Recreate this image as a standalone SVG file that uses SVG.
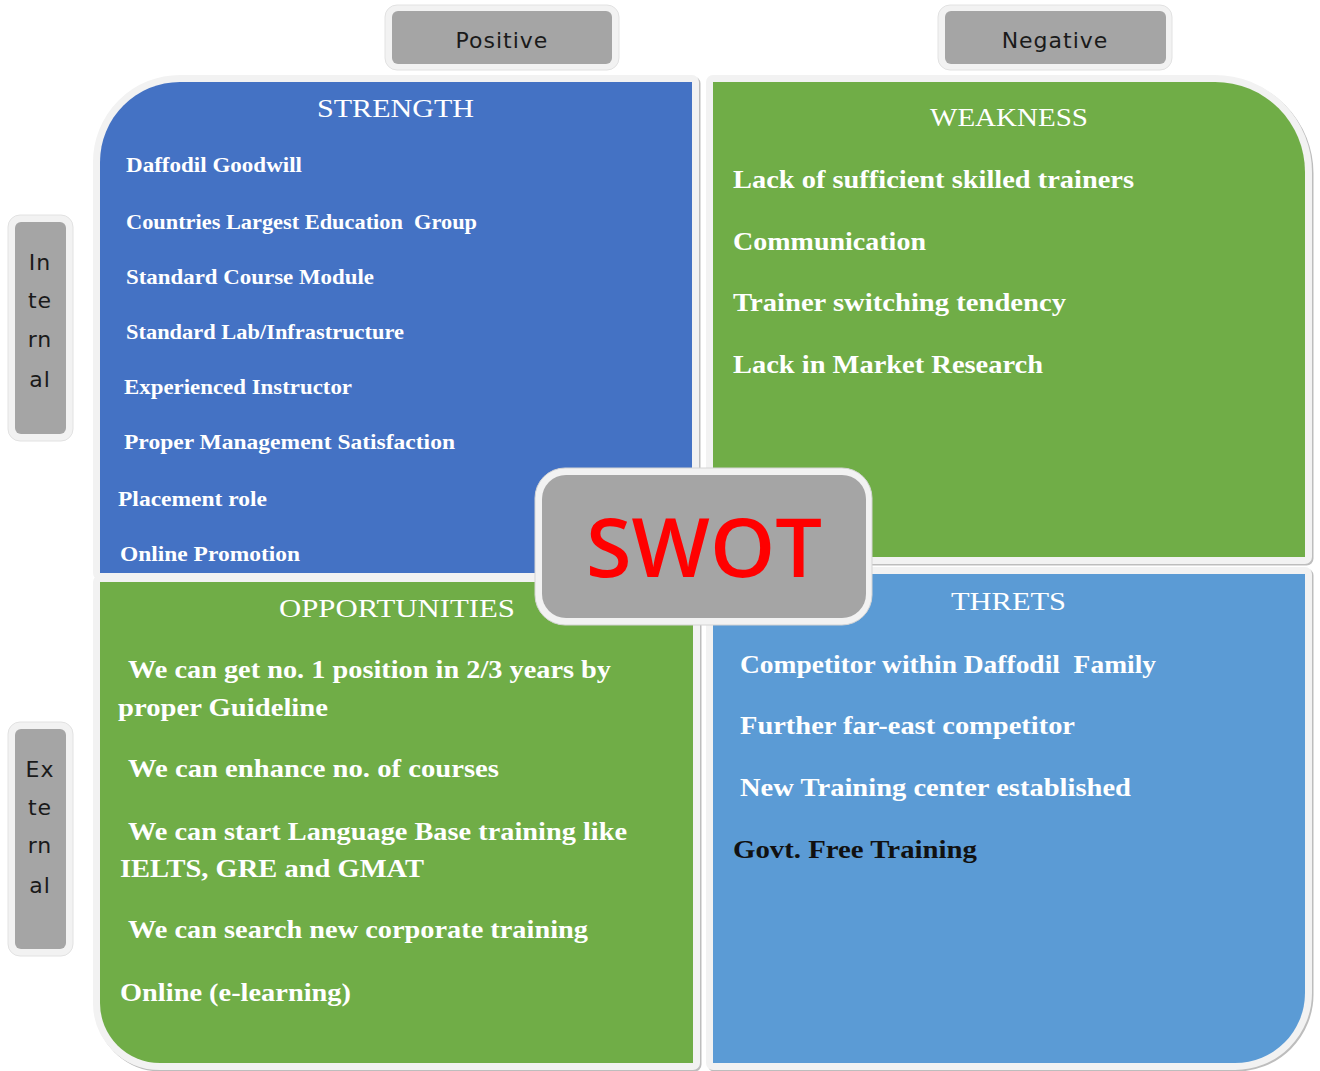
<svg xmlns="http://www.w3.org/2000/svg" width="1320" height="1071" viewBox="0 0 1320 1071">
  <style>
    .shadow { fill: none; stroke: #bdbdbd; stroke-width: 14; stroke-linejoin: round; }
    .rim { fill: none; stroke: #f2f2f2; stroke-width: 14; stroke-linejoin: round; }
    .tag-rim { fill: #f2f2f2; stroke: #e2e2e2; stroke-width: 1; }
    .tag { fill: #a5a5a5; }
    .tag-text { font-family: "DejaVu Sans", sans-serif; font-size: 22px; fill: #1a1a1a; letter-spacing: 1px; text-anchor: middle; }
    .title { font-family: "Liberation Serif", serif; font-size: 25px; fill: #ffffff; white-space: pre; }
    .s-item { font-family: "Liberation Serif", serif; font-weight: bold; font-size: 21px; fill: #ffffff; white-space: pre; }
    .item { font-family: "Liberation Serif", serif; font-weight: bold; font-size: 25px; fill: #ffffff; white-space: pre; }
    .dark { fill: #111111; }
  </style>

  <!-- Axis labels -->
  <g id="positive">
    <rect class="tag-rim" x="385" y="5" width="234" height="65" rx="12"/>
    <rect class="tag" x="392" y="11" width="220" height="53" rx="6"/>
    <text class="tag-text" x="502" y="48">Positive</text>
  </g>
  <g id="negative">
    <rect class="tag-rim" x="938" y="5" width="234" height="65" rx="12"/>
    <rect class="tag" x="945" y="11" width="221" height="53" rx="6"/>
    <text class="tag-text" x="1055" y="48">Negative</text>
  </g>
  <g id="internal">
    <rect class="tag-rim" x="8" y="215" width="65" height="226" rx="12"/>
    <rect class="tag" x="15" y="222" width="51" height="212" rx="6"/>
    <text class="tag-text" x="40" y="270">In</text>
    <text class="tag-text" x="40" y="308">te</text>
    <text class="tag-text" x="40" y="347">rn</text>
    <text class="tag-text" x="40" y="387">al</text>
  </g>
  <g id="external">
    <rect class="tag-rim" x="8" y="722" width="65" height="234" rx="12"/>
    <rect class="tag" x="15" y="729" width="51" height="220" rx="6"/>
    <text class="tag-text" x="40" y="777">Ex</text>
    <text class="tag-text" x="40" y="815">te</text>
    <text class="tag-text" x="40" y="853">rn</text>
    <text class="tag-text" x="40" y="893">al</text>
  </g>

  <!-- Strength quadrant -->
  <g id="strength">
    <path class="shadow" transform="translate(1.5,1.5)" d="M100,162 A80,80 0 0 1 180,82 H692 V573 H100 Z"/>
    <path class="rim" d="M100,162 A80,80 0 0 1 180,82 H692 V573 H100 Z"/>
    <path fill="#4472c4" d="M100,162 A80,80 0 0 1 180,82 H692 V573 H100 Z"/>
    <text class="title" x="317" y="117" textLength="157" lengthAdjust="spacingAndGlyphs">STRENGTH</text>
    <text class="s-item" x="126" y="172" textLength="176" lengthAdjust="spacingAndGlyphs">Daffodil Goodwill</text>
    <text class="s-item" x="126" y="229" textLength="351" lengthAdjust="spacingAndGlyphs">Countries Largest Education  Group</text>
    <text class="s-item" x="126" y="284" textLength="248" lengthAdjust="spacingAndGlyphs">Standard Course Module</text>
    <text class="s-item" x="126" y="339" textLength="278" lengthAdjust="spacingAndGlyphs">Standard Lab/Infrastructure</text>
    <text class="s-item" x="124" y="394" textLength="228" lengthAdjust="spacingAndGlyphs">Experienced Instructor</text>
    <text class="s-item" x="124" y="449" textLength="331" lengthAdjust="spacingAndGlyphs">Proper Management Satisfaction</text>
    <text class="s-item" x="118" y="506" textLength="149" lengthAdjust="spacingAndGlyphs">Placement role</text>
    <text class="s-item" x="120" y="561" textLength="180" lengthAdjust="spacingAndGlyphs">Online Promotion</text>
  </g>

  <!-- Weakness quadrant -->
  <g id="weakness">
    <path class="shadow" transform="translate(1.5,1.5)" d="M713,82 H1215 A90,90 0 0 1 1305,172 V557 H713 Z"/>
    <path class="rim" d="M713,82 H1215 A90,90 0 0 1 1305,172 V557 H713 Z"/>
    <path fill="#70ad47" d="M713,82 H1215 A90,90 0 0 1 1305,172 V557 H713 Z"/>
    <text class="title" x="930" y="126" textLength="158" lengthAdjust="spacingAndGlyphs">WEAKNESS</text>
    <text class="item" x="733" y="188" textLength="401" lengthAdjust="spacingAndGlyphs">Lack of sufficient skilled trainers</text>
    <text class="item" x="733" y="250" textLength="193" lengthAdjust="spacingAndGlyphs">Communication</text>
    <text class="item" x="733" y="311" textLength="333" lengthAdjust="spacingAndGlyphs">Trainer switching tendency</text>
    <text class="item" x="733" y="373" textLength="310" lengthAdjust="spacingAndGlyphs">Lack in Market Research</text>
  </g>

  <!-- Opportunities quadrant -->
  <g id="opportunities">
    <path class="shadow" transform="translate(1.5,1.5)" d="M100,582 H693 V1063 H160 A60,60 0 0 1 100,1003 Z"/>
    <path class="rim" d="M100,582 H693 V1063 H160 A60,60 0 0 1 100,1003 Z"/>
    <path fill="#70ad47" d="M100,582 H693 V1063 H160 A60,60 0 0 1 100,1003 Z"/>
    <text class="title" x="279" y="617" textLength="236" lengthAdjust="spacingAndGlyphs">OPPORTUNITIES</text>
    <text class="item" x="128" y="678" textLength="483" lengthAdjust="spacingAndGlyphs">We can get no. 1 position in 2/3 years by</text>
    <text class="item" x="118" y="716" textLength="210" lengthAdjust="spacingAndGlyphs">proper Guideline</text>
    <text class="item" x="128" y="777" textLength="371" lengthAdjust="spacingAndGlyphs">We can enhance no. of courses</text>
    <text class="item" x="128" y="840" textLength="499" lengthAdjust="spacingAndGlyphs">We can start Language Base training like</text>
    <text class="item" x="120" y="877" textLength="304" lengthAdjust="spacingAndGlyphs">IELTS, GRE and GMAT</text>
    <text class="item" x="128" y="938" textLength="460" lengthAdjust="spacingAndGlyphs">We can search new corporate training</text>
    <text class="item" x="120" y="1001" textLength="231" lengthAdjust="spacingAndGlyphs">Online (e-learning)</text>
  </g>

  <!-- Threats quadrant -->
  <g id="threats">
    <path class="shadow" transform="translate(1.5,1.5)" d="M713,574 H1305 V993 A70,70 0 0 1 1235,1063 H713 Z"/>
    <path class="rim" d="M713,574 H1305 V993 A70,70 0 0 1 1235,1063 H713 Z"/>
    <path fill="#5b9bd5" d="M713,574 H1305 V993 A70,70 0 0 1 1235,1063 H713 Z"/>
    <text class="title" x="951" y="610" textLength="115" lengthAdjust="spacingAndGlyphs">THRETS</text>
    <text class="item" x="740" y="673" textLength="416" lengthAdjust="spacingAndGlyphs">Competitor within Daffodil  Family</text>
    <text class="item" x="740" y="734" textLength="335" lengthAdjust="spacingAndGlyphs">Further far-east competitor</text>
    <text class="item" x="740" y="796" textLength="391" lengthAdjust="spacingAndGlyphs">New Training center established</text>
    <text class="item dark" x="733" y="858" textLength="244" lengthAdjust="spacingAndGlyphs">Govt. Free Training</text>
  </g>

  <!-- Centre badge -->
  <g id="swot">
    <rect x="535" y="468" width="337" height="157" rx="30" fill="#f2f2f2" stroke="#d4d4d4" stroke-width="1"/>
    <rect x="542" y="475" width="324" height="143" rx="24" fill="#a5a5a5"/>
    <text x="704" y="577" font-family="Open Sans, Liberation Sans, sans-serif" font-weight="600" font-size="82" fill="#ff0000" text-anchor="middle" textLength="236" lengthAdjust="spacingAndGlyphs">SWOT</text>
  </g>
</svg>
